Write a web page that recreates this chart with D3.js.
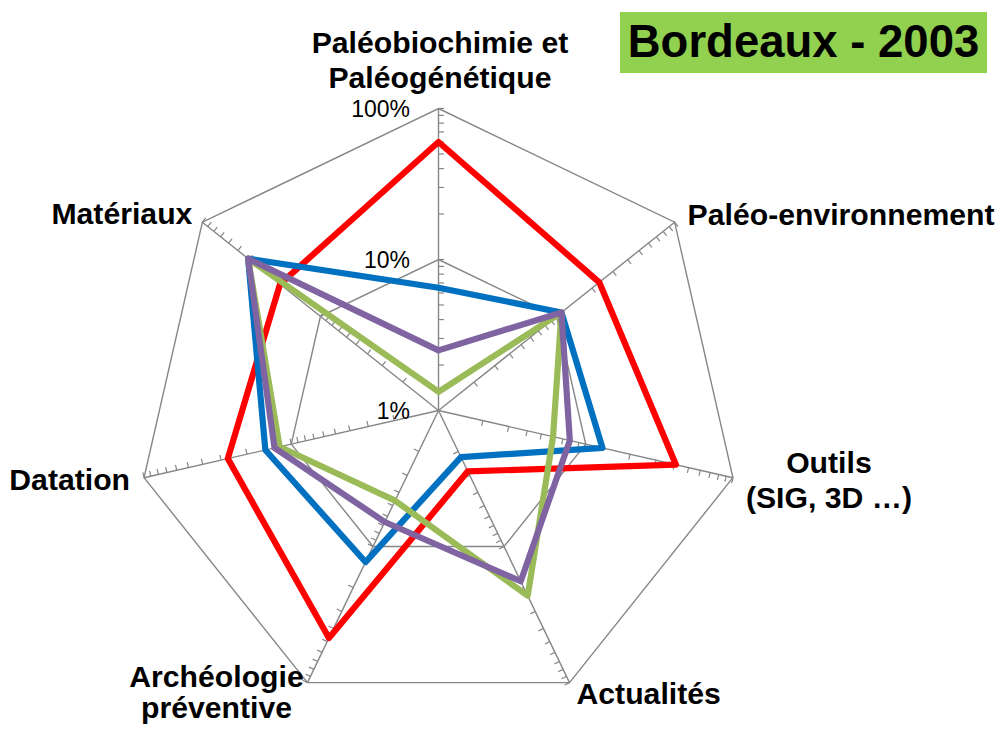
<!DOCTYPE html>
<html>
<head>
<meta charset="utf-8">
<script src="https://cdn.jsdelivr.net/npm/d3@7"></script>
<style>
body { margin:0; background:#fff; }
svg { display:block; }
text { font-family: Arial, "Liberation Sans", sans-serif; }
</style>
</head>
<body>
<svg id="svg0" width="1004" height="737"></svg>
<script>
// axes, clockwise from the top
var categories = ['Paléobiochimie et Paléogénétique', 'Paléo-environnement', 'Outils (SIG, 3D …)', 'Actualités', 'Archéologie préventive', 'Datation', 'Matériaux'];
var label_lines = [['Paléobiochimie et','Paléogénétique'], ['Paléo-environnement'], ['Outils','(SIG, 3D …)'], ['Actualités'], ['Archéologie','préventive'], ['Datation'], ['Matériaux']];

// values in %, log axis
var red_values    = [60, 23, 41, 2.8, 47, 27, 22];
var blue_values   = [6.5, 11, 13, 2.2, 13, 15, 41];
var green_values  = [1.33, 11, 6.0, 23, 4.6, 12, 41];
var purple_values = [2.5, 11, 7.8, 18, 6.6, 13, 41];
var series_colors = ['#ff0000', '#0070c0', '#9bbb59', '#8064a2'];

var grid_values = [1, 10, 100];
var grid_labels = ['1%', '10%', '100%'];
var title_text = 'Bordeaux - 2003';

var svg0 = d3.select('#svg0');
var cx = 438.5, cy = 410.5, R = 302;
var grey = '#868686';

var r = d3.scaleLog().domain([1, 100]).range([0, R]);
var angle = d3.scaleLinear().domain([0, categories.length]).range([0, 2*Math.PI]);
var idx = d3.range(categories.length);

function pt(i, v) {
	var a = angle(i);
	return [cx + r(v)*Math.sin(a), cy - r(v)*Math.cos(a)];
}

var g = svg0.append('g');

// rings
g.selectAll('.ring').data(grid_values.slice(1)).enter().append('polygon').attr('class', 'ring')
	.attr('points', v => idx.map(i => pt(i, v).join(',')).join(' '))
	.attr('fill', 'none').attr('stroke', grey).attr('stroke-width', 1.4);

// spokes
g.selectAll('.spoke').data(idx).enter().append('line').attr('class', 'spoke')
	.attr('x1', cx).attr('y1', cy)
	.attr('x2', i => pt(i, 100)[0]).attr('y2', i => pt(i, 100)[1])
	.attr('stroke', grey).attr('stroke-width', 1.4);

// minor log ticks on every spoke
var tick_len = 5.5;
var tick_data = [];
idx.forEach(i => r.ticks().filter(t => t > 1).forEach(t => tick_data.push({i: i, t: t})));
g.selectAll('.tick').data(tick_data).enter().append('line').attr('class', 'tick')
	.attr('x1', d => pt(d.i, d.t)[0]).attr('y1', d => pt(d.i, d.t)[1])
	.attr('x2', d => pt(d.i, d.t)[0] + tick_len*Math.cos(angle(d.i)))
	.attr('y2', d => pt(d.i, d.t)[1] + tick_len*Math.sin(angle(d.i)))
	.attr('stroke', grey).attr('stroke-width', 1.2);

// value labels
g.selectAll('.vlab').data(grid_values).enter().append('text').attr('class', 'vlab')
	.attr('x', cx - 28.5).attr('y', v => cy - r(v) + 8)
	.attr('text-anchor', 'end').attr('font-size', '23px').attr('fill', '#000')
	.text((v, k) => grid_labels[k]);

// series
var all_series = [red_values, blue_values, green_values, purple_values];
var line = d3.lineRadial().angle((v, i) => angle(i)).radius(v => r(v)).curve(d3.curveLinearClosed);
svg0.append('g').attr('transform', 'translate(' + cx + ',' + cy + ')')
	.selectAll('path').data(all_series).enter().append('path')
	.attr('d', line).attr('fill', 'none')
	.attr('stroke', (d, k) => series_colors[k]).attr('stroke-width', 6.2)
	.attr('stroke-linejoin', 'round');

// axis labels
var label_layout = [
	{anchor: 'middle', dx: 1.5, dy: -55.5, lh: 35},
	{anchor: 'start', dx: 13, dy: 3, lh: 35},
	{anchor: 'middle', dx: 96, dy: -5, lh: 35},
	{anchor: 'start', dx: 7, dy: 21, lh: 35},
	{anchor: 'middle', dx: -91, dy: 4, lh: 31},
	{anchor: 'end', dx: -14, dy: 12, lh: 35},
	{anchor: 'end', dx: -10, dy: 2, lh: 35}
];
var labs = svg0.append('g').selectAll('text').data(idx).enter().append('text')
	.attr('text-anchor', i => label_layout[i].anchor)
	.attr('font-size', '30.2px').attr('font-weight', 'bold').attr('fill', '#000');
labs.each(function(i) {
	var p = pt(i, 100), L = label_layout[i];
	d3.select(this).selectAll('tspan').data(label_lines[i]).enter().append('tspan')
		.attr('x', p[0] + L.dx).attr('y', (s, k) => p[1] + L.dy + k*L.lh)
		.text(s => s);
});

// title
svg0.append('rect').attr('x', 620).attr('y', 12).attr('width', 367).attr('height', 61).attr('fill', '#92d050');
svg0.append('text').attr('x', 803.5).attr('y', 57).attr('text-anchor', 'middle')
	.attr('font-size', '45.5px').attr('font-weight', 'bold').attr('fill', '#000')
	.text(title_text);
</script>
</body>
</html>
